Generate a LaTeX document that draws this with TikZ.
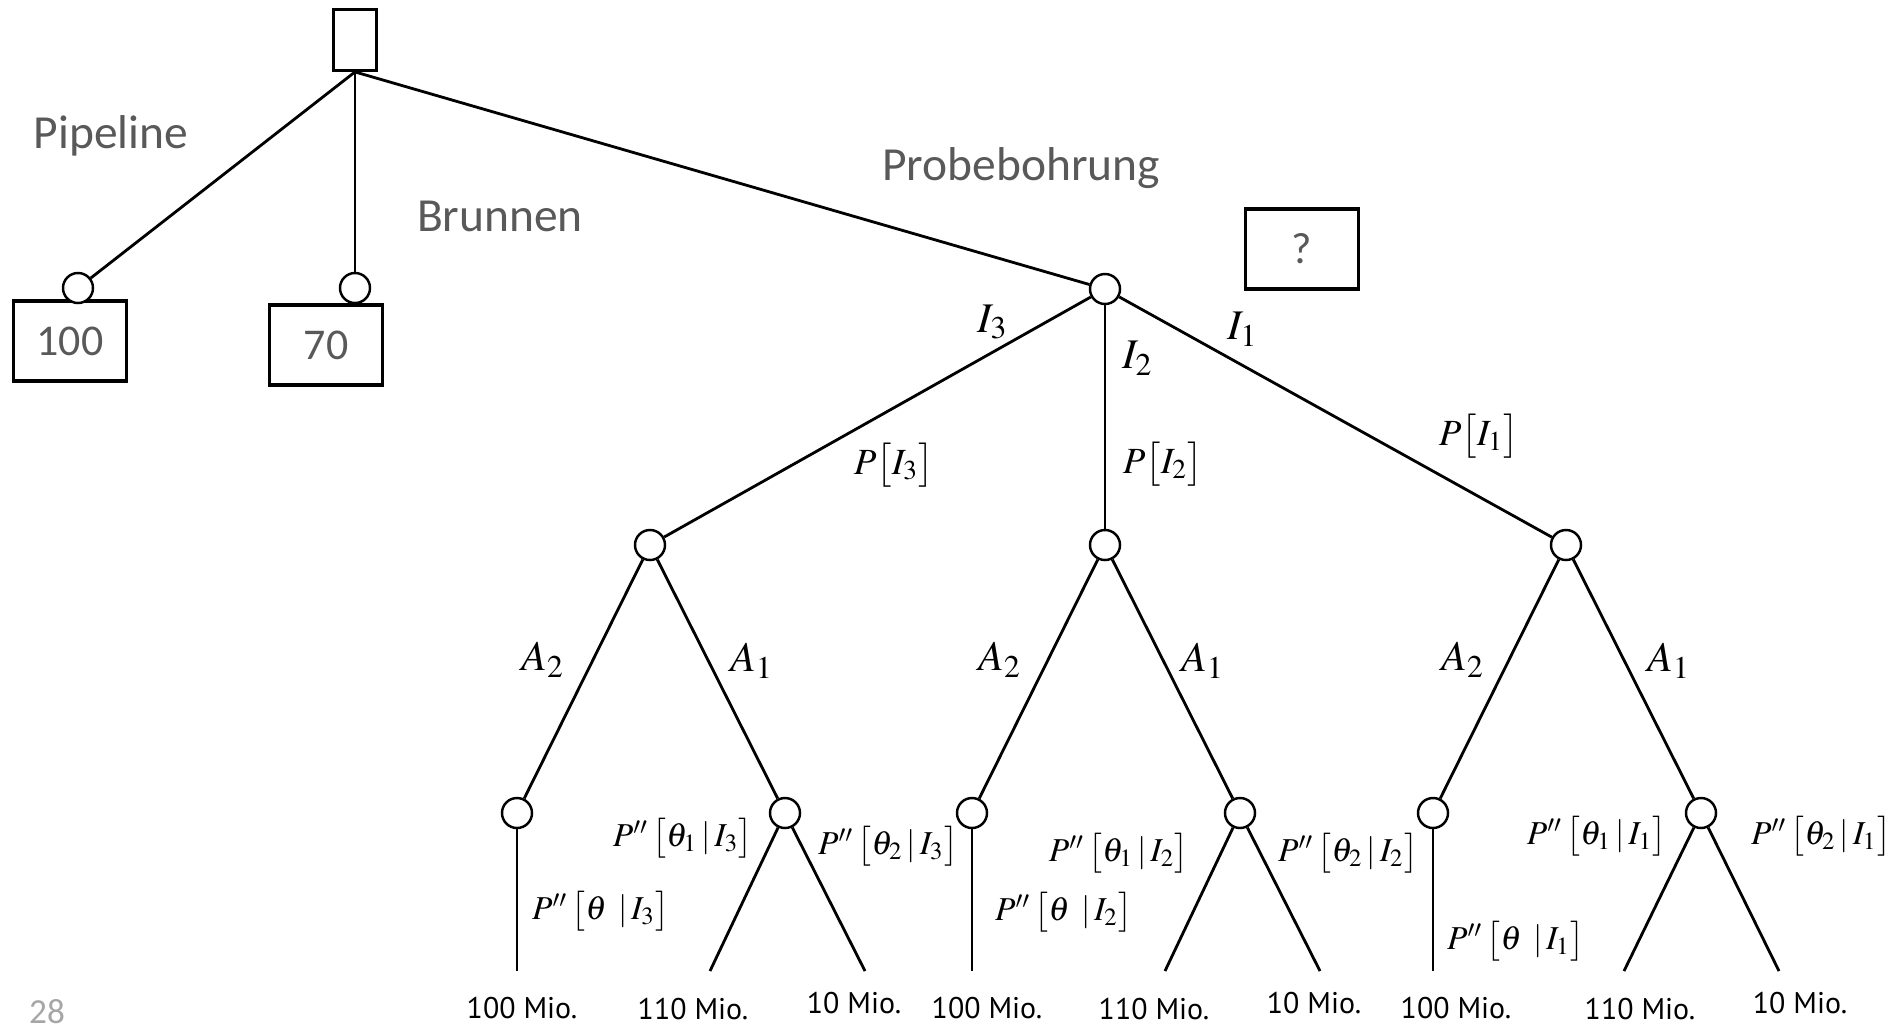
\RequirePackage{fix-cm}
\documentclass[tikz,border=0pt]{standalone}
\usepackage{amsmath}
\usepackage{mathptmx}
\usepackage{fontspec}
\setmainfont{Carlito}
\newfontfamily\leaffont{PT Sans}
\usetikzlibrary{positioning}

\begin{document}
\begin{tikzpicture}[
  x=0.01cm, y=-0.01cm,
  decision/.style={rectangle, draw, line width=0.8pt, minimum width=0.43cm, minimum height=0.61cm, inner sep=0pt},
  payoff/.style={rectangle, draw, line width=1pt, minimum width=1.13cm, minimum height=0.8cm, font=\fontsize{12.5}{14}\selectfont, text=black!65},
  chance/.style={circle, draw, fill=white, line width=0.7pt, minimum size=0.3cm, inner sep=0pt},
  branch/.style={line width=0.8pt},
  act/.style={font=\fontsize{13.5}{16}\selectfont, text=black!65},
  sym/.style={font=\fontsize{12}{14}\selectfont, inner sep=1pt},
  prob/.style={font=\fontsize{10.5}{12}\selectfont, inner sep=1pt},
  cond/.style={font=\fontsize{9.5}{11}\selectfont, inner sep=1pt},
  leaf/.style={font=\leaffont\fontsize{8.5}{10}\selectfont}
]
\useasboundingbox (0,0) rectangle (1899,1023);
\clip (0,0) rectangle (1899,1023);

% Entscheidungsknoten
\node[decision] (root) at (355,40) {};

% Pipeline / Brunnen
\node[payoff] (bP) at (70,341) {100};
\node[chance] (cP) at (78,288) {};
\node[payoff] (bB) at (326,345) {70};
\node[chance] (cB) at (355,288) {};
\draw[branch] (root.south) -- (cP);
\draw[branch] (root.south) -- (cB);
\node[act] at (111,136) {Pipeline};
\node[act] at (500,216) {Brunnen};

% Probebohrung
\node[chance] (c0) at (1105,289) {};
\node[payoff] (bQ) at (1302,249) {?};
\draw[branch] (root.south) -- (c0);
\node[act] at (1021,168) {Probebohrung};

% Informationen
\node[chance] (c3) at (650,545) {};
\node[chance] (c2) at (1105,545) {};
\node[chance] (c1) at (1566,545) {};
\draw[branch] (c0) -- (c3);
\draw[branch] (c0) -- (c2);
\draw[branch] (c0) -- (c1);
\node[sym] at (993,322) {$I_3$};
\node[sym] at (1138,358) {$I_2$};
\node[sym] at (1243,329) {$I_1$};
\node[prob] at (894,465) {$P\bigl[I_3\bigr]$};
\node[prob] at (1163,464) {$P\bigl[I_2\bigr]$};
\node[prob] at (1479,436) {$P\bigl[I_1\bigr]$};

% Aktionen
\node[chance] (c3a) at (517,813) {};
\node[chance] (c3b) at (785,813) {};
\node[chance] (c2a) at (972,813) {};
\node[chance] (c2b) at (1240,813) {};
\node[chance] (c1a) at (1433,813) {};
\node[chance] (c1b) at (1701,813) {};
\draw[branch] (c3) -- (c3a);
\draw[branch] (c3) -- (c3b);
\draw[branch] (c2) -- (c2a);
\draw[branch] (c2) -- (c2b);
\draw[branch] (c1) -- (c1a);
\draw[branch] (c1) -- (c1b);
\node[sym] at (543,660) {$A_2$};
\node[sym] at (752,661) {$A_1$};
\node[sym] at (1000,660) {$A_2$};
\node[sym] at (1203,661) {$A_1$};
\node[sym] at (1463,660) {$A_2$};
\node[sym] at (1669,661) {$A_1$};

% Umweltzustaende
\coordinate (e3a) at (517,971);
\coordinate (e3b1) at (710,971);
\coordinate (e3b2) at (865,971);
\coordinate (e2a) at (972,971);
\coordinate (e2b1) at (1165,971);
\coordinate (e2b2) at (1320,971);
\coordinate (e1a) at (1433,971);
\coordinate (e1b1) at (1624,971);
\coordinate (e1b2) at (1779,971);
\draw[branch] (c3a) -- (e3a);
\draw[branch] (c3b) -- (e3b1);
\draw[branch] (c3b) -- (e3b2);
\draw[branch] (c2a) -- (e2a);
\draw[branch] (c2b) -- (e2b1);
\draw[branch] (c2b) -- (e2b2);
\draw[branch] (c1a) -- (e1a);
\draw[branch] (c1b) -- (e1b1);
\draw[branch] (c1b) -- (e1b2);

\node[cond, anchor=west] at (528,911) {$P''\,\bigl[\theta\ \,|\,I_3\bigr]$};
\node[cond, anchor=east] at (757,838) {$P''\,\bigl[\theta_1\,|\,I_3\bigr]$};
\node[cond, anchor=west] at (814,846) {$P''\,\bigl[\theta_2\,|\,I_3\bigr]$};
\node[cond, anchor=west] at (991,912) {$P''\,\bigl[\theta\ \,|\,I_2\bigr]$};
\node[cond, anchor=east] at (1193,853) {$P''\,\bigl[\theta_1\,|\,I_2\bigr]$};
\node[cond, anchor=west] at (1274,853) {$P''\,\bigl[\theta_2\,|\,I_2\bigr]$};
\node[cond, anchor=west] at (1443,941) {$P''\,\bigl[\theta\ \,|\,I_1\bigr]$};
\node[cond, anchor=east] at (1671,836) {$P''\,\bigl[\theta_1\,|\,I_1\bigr]$};
\node[cond, anchor=west] at (1747,836) {$P''\,\bigl[\theta_2\,|\,I_1\bigr]$};

% Ergebnisse
\node[leaf] at (522,1008) {100 Mio.};
\node[leaf] at (693,1009) {110 Mio.};
\node[leaf] at (854,1003) {10 Mio.};
\node[leaf] at (987,1008) {100 Mio.};
\node[leaf] at (1154,1009) {110 Mio.};
\node[leaf] at (1314,1003) {10 Mio.};
\node[leaf] at (1456,1008) {100 Mio.};
\node[leaf] at (1640,1009) {110 Mio.};
\node[leaf] at (1800,1003) {10 Mio.};

% Seitenzahl
\node[font=\fontsize{10}{12}\selectfont, text=black!35] at (47,1012) {28};

\end{tikzpicture}
\end{document}
